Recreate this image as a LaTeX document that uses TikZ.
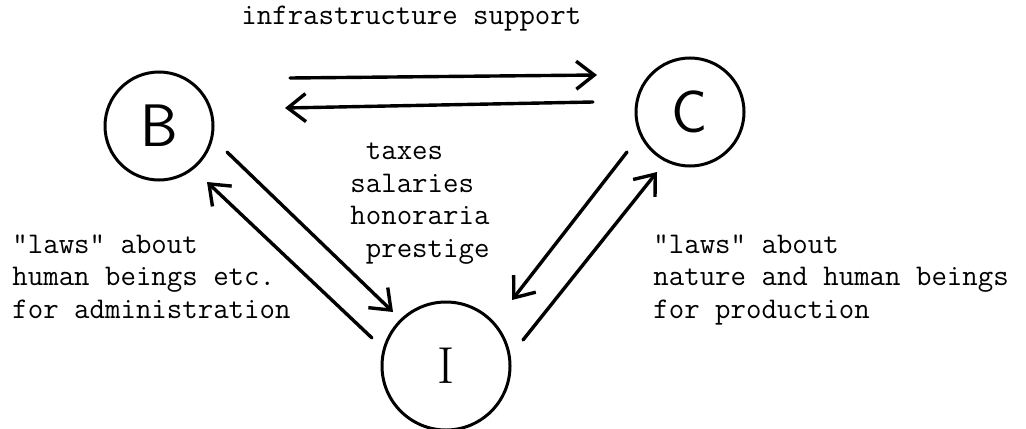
\documentclass[tikz,border=0pt]{standalone}
\usetikzlibrary{arrows.meta}

\begin{document}
\begin{tikzpicture}[>={Straight Barb[length=9pt,width=14pt]},x=0.5pt,y=-0.5pt,
  unit/.style={circle,draw,line width=1.5pt,inner sep=0pt},
  letter/.style={font=\sffamily\fontsize{30}{30}\selectfont},
  flow/.style={->,line width=1.7pt,line cap=round},
  typed/.style={font=\ttfamily\fontsize{15}{16.25}\selectfont,inner sep=0pt,anchor=base west,align=left}]
\useasboundingbox (0,0) rectangle (1026,428);

\node[unit,letter,minimum size=54pt] (B) at (159,126) {B};
\node[unit,letter,minimum size=54pt] (C) at (690,112) {C};
\node[unit,font=\rmfamily\fontsize{26}{26}\selectfont,minimum size=64pt] (I) at (446,366) {I};

\draw[flow] ([shift={(131,-48)}]B.center) -- ([shift={(-93,-37)}]C.center);
\draw[flow] ([shift={(-97,-10)}]C.center) -- ([shift={(126,-18)}]B.center);
\draw[flow] ([shift={(68,26)}]B.center) -- ([shift={(-53,-54)}]I.center);
\draw[flow] ([shift={(-74,-28)}]I.center) -- ([shift={(48,56)}]B.center);
\draw[flow] ([shift={(-63,40)}]C.center) -- ([shift={(66,-66)}]I.center);
\draw[flow] ([shift={(77,-26)}]I.center) -- ([shift={(-33,60)}]C.center);

% base anchor sits on the last line
\node[typed] (support) at (241,25) {infrastructure support};
\node[typed] (money) at (350,257) {\hphantom{x}taxes\\salaries\\honoraria\\\hphantom{x}prestige};
\node[typed] (admin) at (12,318) {"laws" about\\human beings etc.\\for administration};
\node[typed] (prod) at (653,318) {"laws" about\\nature and human beings\\for production};

\end{tikzpicture}
\end{document}
